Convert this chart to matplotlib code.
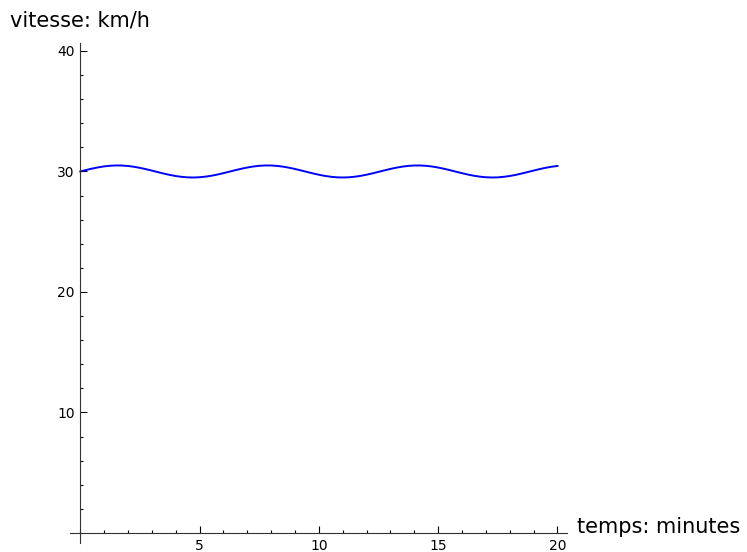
import matplotlib
matplotlib.use("Agg")
import matplotlib.pyplot as plt
from matplotlib.ticker import MultipleLocator

# time in minutes and speed in km/h
temps = [0, 0.25, 0.5, 0.75, 1, 1.25, 1.5, 1.75, 2, 2.25, 2.5, 2.75, 3, 3.25, 3.5, 3.75,
         4, 4.25, 4.5, 4.75, 5, 5.25, 5.5, 5.75, 6, 6.25, 6.5, 6.75, 7, 7.25, 7.5, 7.75,
         8, 8.25, 8.5, 8.75, 9, 9.25, 9.5, 9.75, 10, 10.25, 10.5, 10.75, 11, 11.25, 11.5,
         11.75, 12, 12.25, 12.5, 12.75, 13, 13.25, 13.5, 13.75, 14, 14.25, 14.5, 14.75,
         15, 15.25, 15.5, 15.75, 16, 16.25, 16.5, 16.75, 17, 17.25, 17.5, 17.75, 18,
         18.25, 18.5, 18.75, 19, 19.25, 19.5, 19.75, 20]
vitesse = [30.000, 30.124, 30.240, 30.341, 30.421, 30.474, 30.499, 30.492, 30.455, 30.389,
           30.299, 30.191, 30.071, 29.946, 29.825, 29.714, 29.622, 29.552, 29.511, 29.500,
           29.521, 29.571, 29.647, 29.745, 29.860, 29.983, 30.108, 30.225, 30.328, 30.411,
           30.469, 30.498, 30.495, 30.461, 30.399, 30.312, 30.206, 30.087, 29.962, 29.840,
           29.728, 29.633, 29.560, 29.515, 29.500, 29.516, 29.562, 29.636, 29.732, 29.844,
           29.967, 30.091, 30.210, 30.316, 30.402, 30.463, 30.495, 30.497, 30.467, 30.409,
           30.325, 30.221, 30.103, 29.979, 29.856, 29.741, 29.644, 29.568, 29.519, 29.500,
           29.511, 29.556, 29.625, 29.714, 29.829, 29.951, 30.075, 30.195, 30.303, 30.392,
           30.456]
x_ticks = [5, 10, 15, 20]
y_ticks = [10, 20, 30, 40]
x_label = "temps: minutes"
y_label = "vitesse: km/h"

W, H = 747, 552
fig = plt.figure(figsize=(W / 100, H / 100), dpi=100)
ax = fig.add_axes([70 / W, 1 - 543 / H, (567 - 70) / W, (543 - 43) / H])

ax.plot(temps, vitesse, color="#0000ff", lw=1.4)
ax.set_xlim(-0.43, 20.4)
ax.set_ylim(-0.83, 40.66)

for s in ["top", "right"]:
    ax.spines[s].set_visible(False)
ax.spines["left"].set_position(("data", 0))
ax.spines["bottom"].set_position(("data", 0))
for s in ["left", "bottom"]:
    ax.spines[s].set_linewidth(0.8)
    ax.spines[s].set_color("#333333")

ax.set_xticks(x_ticks)
ax.set_yticks(y_ticks)
ax.xaxis.set_minor_locator(MultipleLocator(1))
ax.yaxis.set_minor_locator(MultipleLocator(2))
ax.tick_params(which="major", direction="in", length=5, width=0.8, labelsize=10, pad=4)
ax.tick_params(which="minor", direction="in", length=2.5, width=0.8)

fig.text(10 / W, 1 - 20 / H, y_label, fontsize=15, ha="left", va="center")
fig.text(577 / W, 1 - 527 / H, x_label, fontsize=15, ha="left", va="center")

fig.savefig("out.png", dpi=100)
